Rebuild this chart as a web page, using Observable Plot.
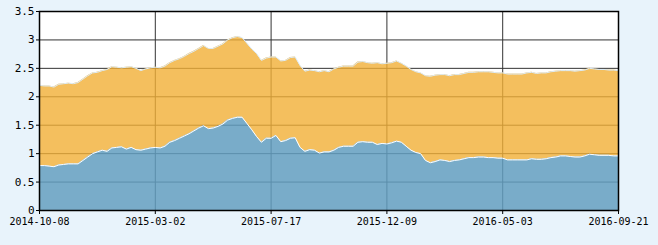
<!DOCTYPE html>
<html><head><meta charset="utf-8">
<script src="https://cdn.jsdelivr.net/npm/d3@7"></script>
<script src="https://cdn.jsdelivr.net/npm/@observablehq/plot@0.6"></script>
<style>html,body{margin:0;padding:0;background:#e8f3fb;} svg{display:block}</style>
</head><body><div id="chart"></div>
<script>
const tickLabels = ["2014-10-08","2015-03-02","2015-07-17","2015-12-09","2016-05-03","2016-09-21"];
const tickIndex = [0,24,48,72,96,120];
const yTicks = [0,0.5,1,1.5,2,2.5,3,3.5];
const totalValue = [
2.20,2.19,2.19,2.17,2.22,2.23,2.24,2.23,2.25,2.31,
2.37,2.42,2.43,2.46,2.48,2.53,2.52,2.51,2.52,2.53,
2.50,2.46,2.49,2.51,2.52,2.51,2.54,2.60,2.64,2.67,
2.71,2.76,2.80,2.85,2.90,2.85,2.85,2.89,2.93,3.00,
3.04,3.06,3.04,2.94,2.84,2.76,2.64,2.68,2.70,2.70,
2.63,2.64,2.69,2.70,2.55,2.45,2.47,2.46,2.44,2.46,
2.44,2.49,2.52,2.54,2.54,2.54,2.61,2.62,2.60,2.59,
2.60,2.58,2.59,2.60,2.63,2.59,2.54,2.48,2.44,2.42,
2.37,2.36,2.38,2.39,2.39,2.37,2.39,2.39,2.41,2.43,
2.43,2.44,2.44,2.44,2.43,2.42,2.42,2.40,2.40,2.40,
2.40,2.42,2.43,2.41,2.42,2.42,2.44,2.45,2.46,2.46,
2.46,2.45,2.46,2.47,2.50,2.49,2.48,2.48,2.47,2.47,2.46];
const blueValue = [
0.79,0.79,0.78,0.77,0.80,0.81,0.82,0.82,0.82,0.88,
0.94,1.00,1.03,1.06,1.04,1.10,1.11,1.12,1.08,1.11,
1.07,1.06,1.08,1.10,1.11,1.10,1.13,1.20,1.23,1.27,
1.31,1.35,1.40,1.45,1.49,1.44,1.45,1.48,1.52,1.59,
1.62,1.64,1.64,1.53,1.42,1.30,1.20,1.27,1.27,1.32,
1.21,1.23,1.27,1.28,1.11,1.04,1.07,1.06,1.01,1.03,
1.03,1.06,1.11,1.13,1.13,1.13,1.20,1.21,1.20,1.20,
1.16,1.18,1.17,1.19,1.22,1.20,1.13,1.06,1.02,1.00,
0.88,0.84,0.86,0.89,0.88,0.86,0.88,0.89,0.91,0.93,
0.93,0.94,0.94,0.93,0.93,0.92,0.92,0.89,0.89,0.89,
0.89,0.89,0.91,0.90,0.90,0.91,0.93,0.94,0.96,0.96,
0.95,0.94,0.94,0.96,0.99,0.98,0.97,0.97,0.97,0.96,0.96];
const data = totalValue.map((t, i) => ({i, total: t, blue: blueValue[i]}));

const chart = Plot.plot({
  width: 658, height: 245,
  marginLeft: 39, marginRight: 40, marginTop: 11, marginBottom: 35,
  style: {background: "transparent", fontFamily: "'DejaVu Sans Mono', monospace", fontSize: "10px", color: "black"},
  x: {domain: [0, 120], label: null},
  y: {domain: [0, 3.5], label: null},
  marks: [
    Plot.frame({fill: "white"}),
    Plot.gridY(yTicks.slice(1, -1), {stroke: "#333", strokeOpacity: 1}),
    Plot.gridX(tickIndex.slice(1, -1), {stroke: "#333", strokeOpacity: 1}),
    Plot.areaY(data, {x: "i", y1: "blue", y2: "total", fill: "#f1af36", fillOpacity: 0.8}),
    Plot.areaY(data, {x: "i", y1: 0, y2: "blue", fill: "#629ec0", fillOpacity: 0.85}),
    Plot.lineY(data, {x: "i", y: "total", stroke: "#dcecf7", strokeWidth: 1}),
    Plot.lineY(data, {x: "i", y: "blue", stroke: "white", strokeWidth: 1}),
    Plot.frame({stroke: "black", strokeWidth: 1.5}),
    Plot.axisX({ticks: tickIndex, tickFormat: d => tickLabels[tickIndex.indexOf(d)], tickSize: 4, tickPadding: 3, label: null, fontSize: 10}),
    Plot.axisY({ticks: yTicks, tickFormat: d => String(d), tickSize: 3, tickPadding: 2, label: null, fontSize: 11})
  ]
});
document.getElementById("chart").append(chart);
</script>
</body></html>
